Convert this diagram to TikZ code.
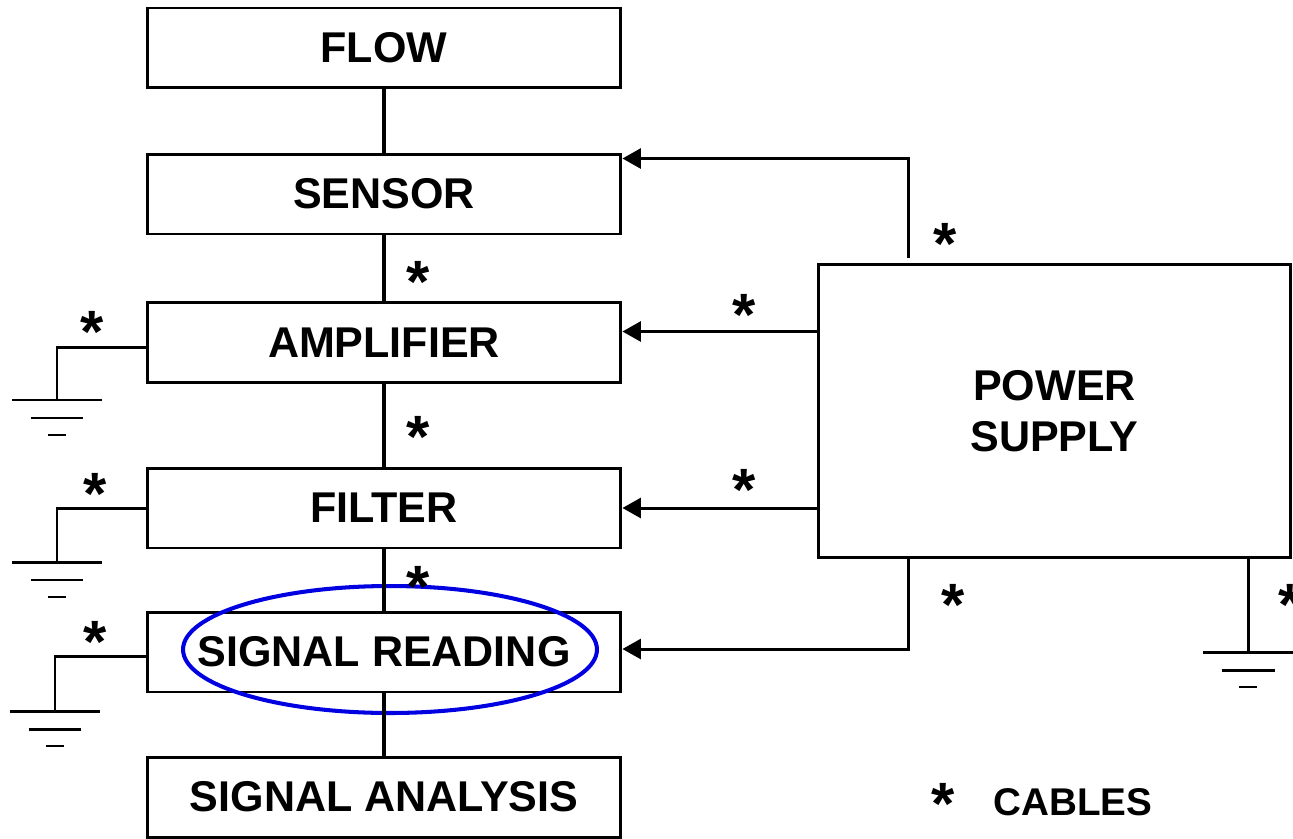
\documentclass[tikz,border=0pt]{standalone}
\usepackage{fontspec}
\setmainfont{Liberation Sans}
\usetikzlibrary{arrows.meta,shapes.geometric}
\definecolor{markblue}{RGB}{0,0,225}

\begin{document}
\begin{tikzpicture}[x=0.02cm,y=-0.02cm,
  block/.style={draw,line width=1.7pt,minimum width=9.48cm,minimum height=1.6cm,inner sep=0pt,font=\fontsize{24.5}{29}\selectfont\bfseries},
  cable/.style={inner sep=0pt,font=\fontsize{34}{34}\selectfont\bfseries,yshift=-0.24cm},
  link/.style={line width=2.8pt},
  feed/.style={line width=1.7pt,-{Triangle[length=0.37cm,width=0.4cm]}},
  wire/.style={line width=1.7pt}]
  \useasboundingbox (0,0) rectangle (1293,838);
  \node[block] (flow) at (384,48) {FLOW};
  \node[block] (sensor) at (384,194) {SENSOR};
  \node[block] (amp) at (384,342.5) {AMPLIFIER};
  \node[block] (filter) at (384,508) {FILTER};
  \node[block] (read) at (384,652) {SIGNAL READING};
  \node[block] (analysis) at (384,797) {SIGNAL ANALYSIS};
  \node[block,minimum width=9.46cm,minimum height=5.88cm,align=center] (ps) at (1054.5,411) {POWER\\SUPPLY};
  \node[draw=markblue,line width=2.3pt,ellipse,minimum width=8.28cm,minimum height=2.54cm] (mark) at (390,649.5) {};
  \draw[link] (flow) -- (sensor);
  \draw[link] (sensor) -- (amp);
  \draw[link] (amp) -- (filter);
  \draw[link] (filter) -- (read);
  \draw[link] (read) -- (analysis);
  \coordinate (tapS) at (908,258);
  \coordinate (tapR) at (908,559);
  \draw[feed] (tapS) |- ([yshift=-0.12cm]sensor.north east);
  \draw[feed] ([yshift=0.22cm]amp.east -| ps.west) -- ([yshift=0.22cm]amp.east);
  \draw[feed] (filter.east -| ps.west) -- (filter.east);
  \draw[feed] (tapR) |- ([yshift=0.06cm]read.east);
  \coordinate (g1) at (57,400);
  \coordinate (g2) at (57,562);
  \coordinate (g3) at (55,711);
  \coordinate (g4) at (1248,652);
  \draw[wire] ([yshift=-0.1cm]amp.west) -| (g1);
  \draw[wire] (filter.west) -| (g2);
  \draw[wire] ([yshift=-0.08cm]read.west) -| (g3);
  \draw[wire] (ps.south -| g4) -- (g4);
  \foreach \g in {g1,g2,g3,g4}{
    \draw[wire] ([xshift=-0.9cm]\g) -- ([xshift=0.9cm]\g);
    \draw[wire] ([xshift=-0.53cm,yshift=-0.36cm]\g) -- ([xshift=0.53cm,yshift=-0.36cm]\g);
    \draw[wire] ([xshift=-0.18cm,yshift=-0.7cm]\g) -- ([xshift=0.18cm,yshift=-0.7cm]\g);
  }
  \node[cable] (c1) at (418,270) {*};
  \node[cable] (c2) at (418,425) {*};
  \node[cable] (c3) at (418,575) {*};
  \node[cable] (c4) at (92,320) {*};
  \node[cable] (c5) at (95,482) {*};
  \node[cable] (c6) at (95,630) {*};
  \node[cable] (c7) at (945,232) {*};
  \node[cable] (c8) at (744,303) {*};
  \node[cable] (c9) at (744,478) {*};
  \node[cable] (c10) at (953,593) {*};
  \node[cable] (c11) at (1290,593) {*};
  \node[cable] (key) at (943,792) {*};
  \node[font=\fontsize{22}{22}\selectfont\bfseries] (cables) at (1073,802.5) {CABLES};
\end{tikzpicture}
\end{document}
